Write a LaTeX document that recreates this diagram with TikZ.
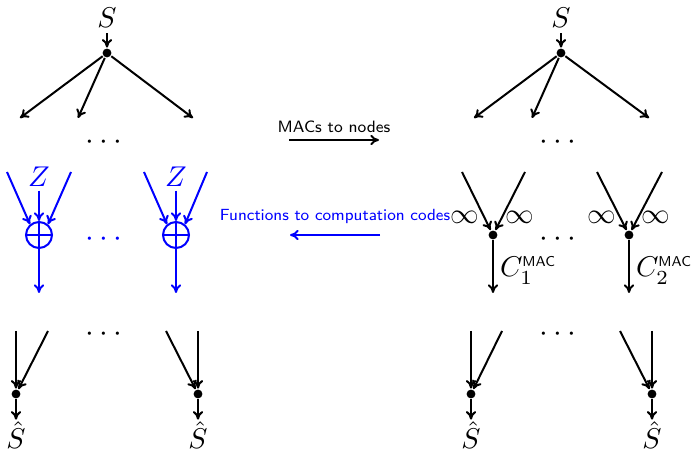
\documentclass[tikz,border=0pt]{standalone}
\usetikzlibrary{arrows.meta}
\begin{document}
\begin{tikzpicture}[x=0.35pt,y=-0.35pt,
  every path/.style={line width=0.7pt},
  conn/.style={-{To[length=3pt,width=3.6pt]}, line width=0.7pt},
  dotnode/.style={circle, fill, inner sep=0pt, minimum size=3.1pt},
  plusnode/.style={circle, draw=blue, line width=0.7pt, inner sep=0pt, minimum size=9.1pt},
  lbl/.style={inner sep=1.5pt},
  hatlbl/.style={inner sep=0.3pt},
  dots/.style={inner sep=0pt, font=\fontsize{11}{12}\selectfont},
  sftext/.style={inner sep=0pt, font=\fontsize{5.75}{7}\selectfont\sffamily},
  sfblue/.style={inner sep=0pt, text=blue, font=\fontsize{5.65}{7}\selectfont\sffamily}
]
\useasboundingbox (0,0) rectangle (697,450);

% ---------- left: top tree ----------
\node[lbl] (S1) at (107,18) {$S$};
\node[dotnode] (d1) at (107,53) {};
\draw[conn] (S1) -- (d1);
\coordinate (t11) at (20,118);
\coordinate (t12) at (78,118);
\coordinate (t13) at (193,118);
\draw[conn] (d1) -- (t11);
\draw[conn] (d1) -- (t12);
\draw[conn] (d1) -- (t13);
\node[dots] (e1) at (104,143) {$\cdots$};

% ---------- left: blue middle ----------
\begin{scope}[blue]
\node[lbl, inner sep=1pt] (Z1) at (39,177) {$Z$};
\node[plusnode] (p1) at (39,235) {};
\draw (p1.north) -- (p1.south) (p1.west) -- (p1.east);
\coordinate (a11) at (7,172);
\coordinate (a12) at (71,172);
\coordinate (o1) at (39,293);
\draw[conn] (Z1) -- (p1);
\draw[conn] (a11) -- (p1.130);
\draw[conn] (a12) -- (p1.50);
\draw[conn] (p1) -- (o1);

\node[lbl, inner sep=1pt] (Z2) at (176,177) {$Z$};
\node[plusnode] (p2) at (176,235) {};
\draw (p2.north) -- (p2.south) (p2.west) -- (p2.east);
\coordinate (a21) at (144,172);
\coordinate (a22) at (207,172);
\coordinate (o2) at (176,293);
\draw[conn] (Z2) -- (p2);
\draw[conn] (a21) -- (p2.130);
\draw[conn] (a22) -- (p2.50);
\draw[conn] (p2) -- (o2);

\node[dots] (e2) at (104,240) {$\cdots$};
\end{scope}

% ---------- left: bottom ----------
\node[dotnode] (b1) at (16,394) {};
\node[dotnode] (b2) at (198,394) {};
\coordinate (c11) at (16,331);
\coordinate (c12) at (48,331);
\coordinate (c21) at (166,331);
\coordinate (c22) at (198,331);
\draw[conn] (c11) -- (b1);
\draw[conn] (c12) -- (b1);
\draw[conn] (c21) -- (b2);
\draw[conn] (c22) -- (b2);
\node[hatlbl] (h1) at (16,435) {$\hat{S}$};
\node[hatlbl] (h2) at (198,435) {$\hat{S}$};
\draw[conn] (b1) -- (h1);
\draw[conn] (b2) -- (h2);
\node[dots] (e3) at (104,335) {$\cdots$};

% ---------- middle ----------
\node[sftext] (mac) at (334,127) {MACs to nodes};
\coordinate (ma) at (289,140);
\coordinate (mb) at (379,140);
\draw[conn] (ma) -- (mb);
\node[sfblue] (fun) at (335,216) {Functions to computation codes};
\coordinate (fa) at (380,235);
\coordinate (fb) at (290,235);
\draw[conn, blue] (fa) -- (fb);

% ---------- right: top tree ----------
\node[lbl] (S2) at (561,18) {$S$};
\node[dotnode] (d2) at (561,53) {};
\draw[conn] (S2) -- (d2);
\coordinate (t21) at (474,118);
\coordinate (t22) at (532,118);
\coordinate (t23) at (649,118);
\draw[conn] (d2) -- (t21);
\draw[conn] (d2) -- (t22);
\draw[conn] (d2) -- (t23);
\node[dots] (e4) at (558,143) {$\cdots$};

% ---------- right: middle ----------
\node[dotnode] (m1) at (493,235) {};
\coordinate (r11) at (462,172);
\coordinate (r12) at (525,172);
\coordinate (q1) at (493,293);
\draw[conn] (r11) -- (m1);
\draw[conn] (r12) -- (m1);
\draw[conn] (m1) -- (q1);
\node[inner sep=0pt] (i11) at (465,217) {$\infty$};
\node[inner sep=0pt] (i12) at (520,217) {$\infty$};
\node[inner sep=0pt, anchor=base west] (C1) at (499,277) {$C_1^{\scriptscriptstyle\mathsf{MAC}}$};

\node[dotnode] (m2) at (629,235) {};
\coordinate (r21) at (597,172);
\coordinate (r22) at (662,172);
\coordinate (q2) at (629,293);
\draw[conn] (r21) -- (m2);
\draw[conn] (r22) -- (m2);
\draw[conn] (m2) -- (q2);
\node[inner sep=0pt] (i21) at (602,217) {$\infty$};
\node[inner sep=0pt] (i22) at (656,217) {$\infty$};
\node[inner sep=0pt, anchor=base west] (C2) at (635,277) {$C_2^{\scriptscriptstyle\mathsf{MAC}}$};

\node[dots] (e5) at (558,240) {$\cdots$};

% ---------- right: bottom ----------
\node[dotnode] (b3) at (471,394) {};
\node[dotnode] (b4) at (652,394) {};
\coordinate (c31) at (471,331);
\coordinate (c32) at (502,331);
\coordinate (c41) at (620,331);
\coordinate (c42) at (652,331);
\draw[conn] (c31) -- (b3);
\draw[conn] (c32) -- (b3);
\draw[conn] (c41) -- (b4);
\draw[conn] (c42) -- (b4);
\node[hatlbl] (h3) at (471,435) {$\hat{S}$};
\node[hatlbl] (h4) at (652,435) {$\hat{S}$};
\draw[conn] (b3) -- (h3);
\draw[conn] (b4) -- (h4);
\node[dots] (e6) at (558,335) {$\cdots$};
\end{tikzpicture}
\end{document}
